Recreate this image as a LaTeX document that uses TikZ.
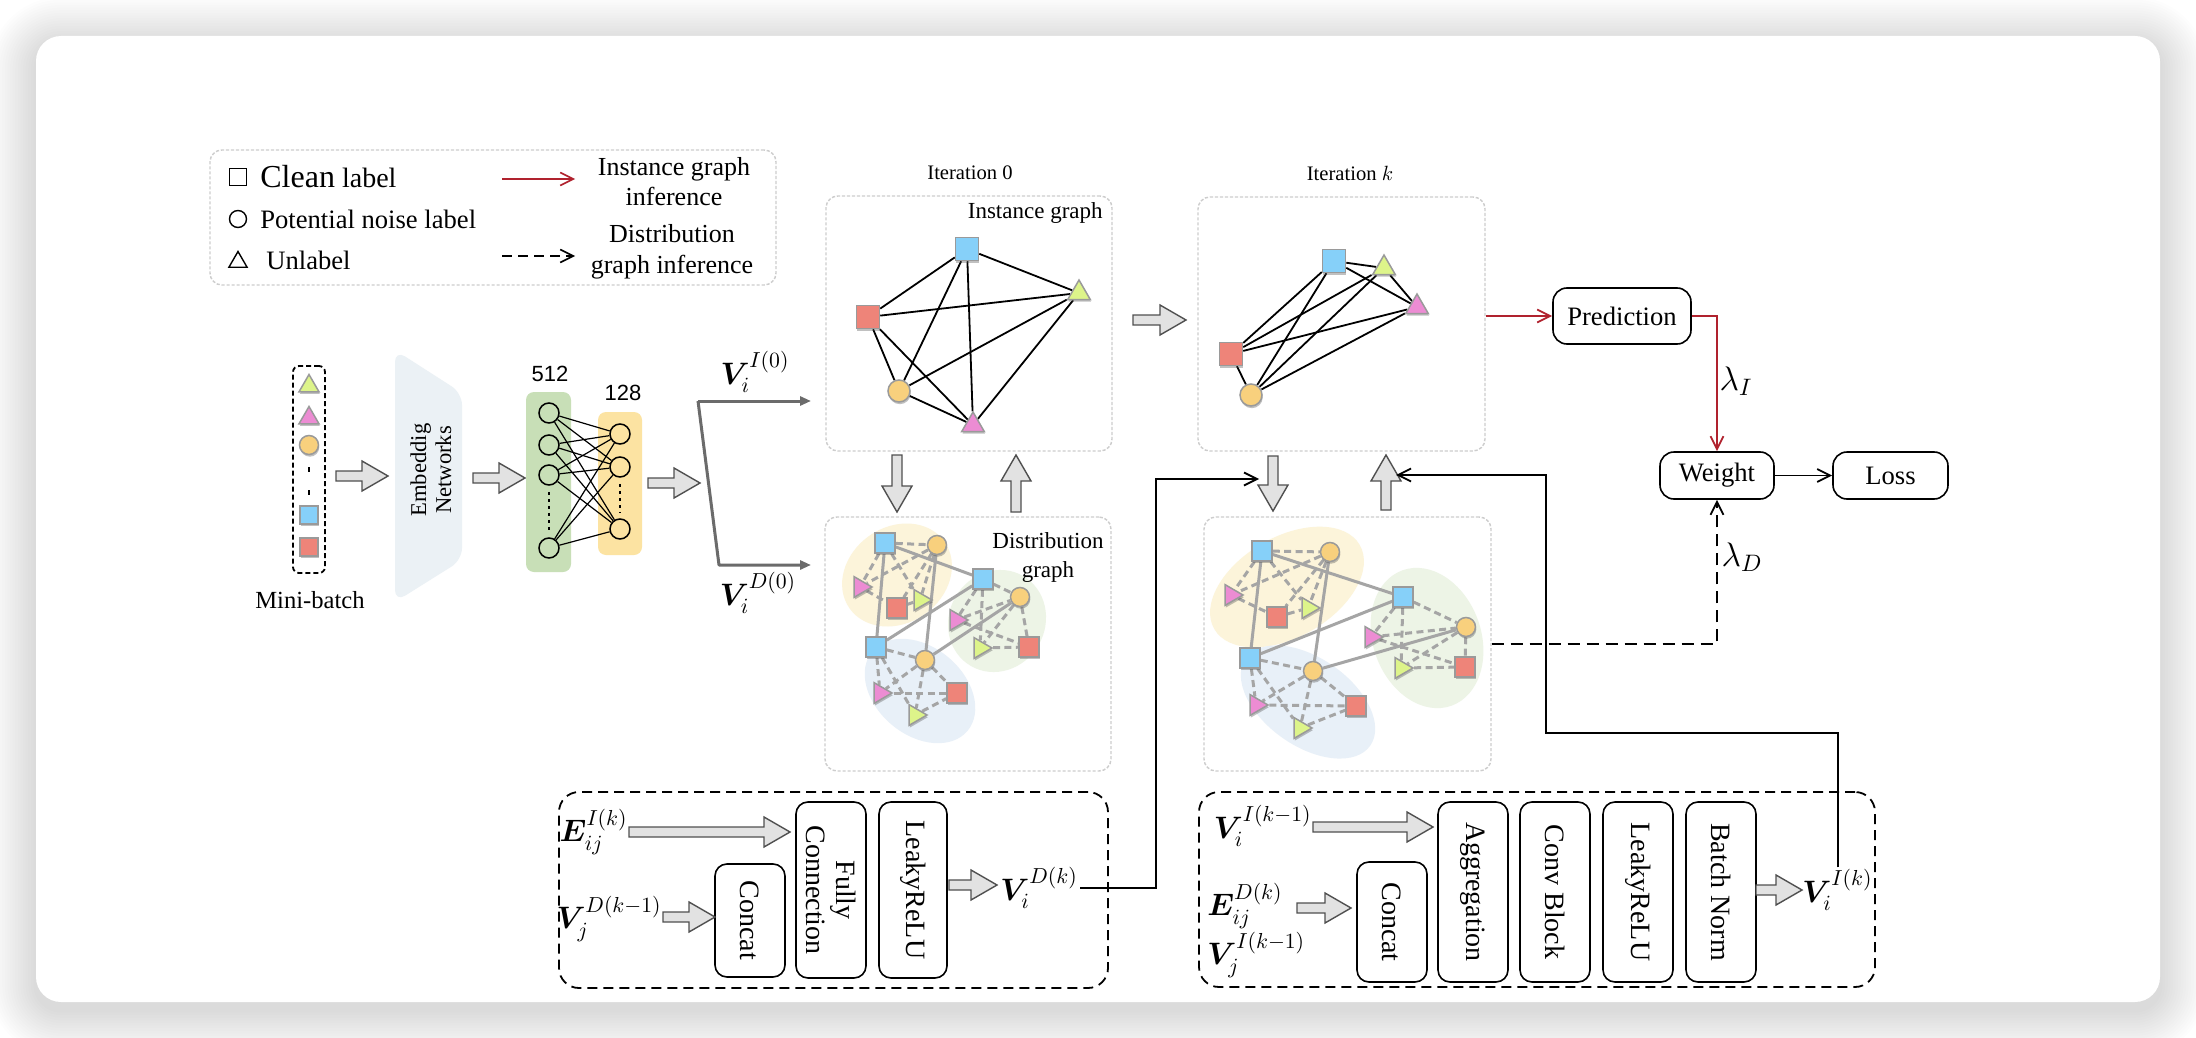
\RequirePackage{fix-cm}
\documentclass[tikz,border=0pt]{standalone}
\usepackage{amsmath}
\usepackage{bm}
\usepackage{fontspec}
\setmainfont{Liberation Serif}
\newfontfamily\numfont{Liberation Sans}
\usetikzlibrary{arrows.meta,shapes.geometric,shadows}

\definecolor{cblue}{HTML}{86D0F9}
\definecolor{cred}{HTML}{EE8479}
\definecolor{corange}{HTML}{F8D07D}
\definecolor{cgreen}{HTML}{DDF48A}
\definecolor{cpink}{HTML}{EC8CD3}
\definecolor{nodeedge}{HTML}{9A9A9A}
\definecolor{boxgray}{HTML}{CDCDCD}
\definecolor{arrowfill}{HTML}{E2E2E2}
\definecolor{arrowedge}{HTML}{505050}
\definecolor{darkred}{HTML}{B0222E}
\definecolor{blobyellow}{HTML}{FCF4DA}
\definecolor{blobgreen}{HTML}{EDF4E6}
\definecolor{blobblue}{HTML}{E8F0F8}
\definecolor{nngreen}{HTML}{C8DFB7}
\definecolor{nnyellow}{HTML}{FCE3A2}
\definecolor{embfill}{HTML}{EBF1F5}
\definecolor{distedge}{HTML}{A5A5A5}
\definecolor{splitgray}{HTML}{6B6B6B}

\newcommand{\BV}{\bm{V}}
\newcommand{\BE}{\bm{E}}

% hollow block arrow: tail x, tail y, length, direction angle
\newcommand{\blockarrow}[4]{%
  \begin{scope}[shift={(#1,#2)},rotate=#4]
    \draw[fill=arrowfill,draw=arrowedge,line width=0.7pt,line join=miter]
      (0,-5) -- ({#3-26},-5) -- ({#3-26},-15) -- (#3,0) -- ({#3-26},15)
      -- ({#3-26},5) -- (0,5) -- cycle;
  \end{scope}}

\pgfdeclarelayer{canvas}
\pgfdeclarelayer{under}
\pgfsetlayers{canvas,under,main}

\tikzset{
  gbox/.style={draw=boxgray,line width=0.7pt,dash pattern=on 1.6pt off 0.9pt,
    rounded corners=6pt,inner sep=0pt},
  bbox/.style={draw=black,line width=0.9pt,dash pattern=on 5pt off 3pt,
    rounded corners=10pt,inner sep=0pt},
  nshadow/.style={drop shadow={shadow xshift=0.4pt,shadow yshift=-1.1pt,
    opacity=0.35,fill=black!70}},
  shp/.style={draw=nodeedge,line width=0.75pt,inner sep=0pt,nshadow},
  sqr/.style={shp,rectangle,minimum size=#1},
  cirn/.style={shp,circle,fill=corange,minimum size=#1},
  trin/.style={shp,regular polygon,regular polygon sides=3,minimum size=#1},
  rtri/.style={trin=#1,shape border rotate=-90},
  neuron/.style={circle,draw=black,line width=0.75pt,minimum size=10pt,inner sep=0pt},
  ndots/.style={line width=0.8pt,dash pattern=on 1.5pt off 2pt,shorten <=3pt,shorten >=3pt},
  iedge/.style={line width=0.9pt,black},
  dsolid/.style={line width=1.5pt,distedge},
  ddash/.style={line width=1.5pt,distedge,dash pattern=on 3.5pt off 2.2pt},
  arr/.style={-{Straight Barb[length=6.5pt,width=6.5pt]}},
  conn/.style={line width=0.9pt,black,arr},
  vbox/.style={draw,line width=0.8pt,rounded corners=6pt,rotate=-90,
    font=\fontsize{14}{15}\selectfont,inner sep=0pt,align=center},
  rbox/.style={draw,line width=0.8pt,rounded corners=7pt,inner sep=0pt,
    font=\fontsize{13.3}{15}\selectfont},
  mlab/.style={inner sep=1pt,font=\fontsize{15.5}{18}\selectfont},
}

\begin{document}
\begin{tikzpicture}[x=0.5pt,y=-0.5pt]
\useasboundingbox (0,0) rectangle (2196,1038);

% ---------- card with soft shadow ----------
\begin{pgfonlayer}{canvas}
  \fill[white] (0,0) rectangle (2196,1038);
  \foreach \i in {1,...,18}{
    \pgfmathsetmacro{\rr}{12.5+1.3*\i}
    \fill[black,opacity=0.009,rounded corners=\rr pt]
      ({36-2.6*\i},{44-2.6*\i}) rectangle ({2160+2.6*\i},{1010+2.6*\i});
  }
  \fill[white,rounded corners=12.5pt] (36,36) rectangle (2160,1002);
\end{pgfonlayer}

% ---------- legend ----------
\node[gbox,minimum width=283pt,minimum height=67.5pt] (legend) at (493,217.5) {};
\node[draw,line width=0.7pt,minimum size=8.5pt,inner sep=0pt] (lsq) at (238,177) {};
\node[draw,circle,line width=0.7pt,minimum size=8.5pt,inner sep=0pt] (lcir) at (238,219) {};
\node[draw,regular polygon,regular polygon sides=3,line width=0.7pt,minimum size=10.5pt,inner sep=0pt] (ltri) at (238,262) {};
\node[anchor=west,inner sep=0pt,font=\fontsize{14}{16}\selectfont] (lclean) at (260,177)
  {{\fontsize{16}{18}\selectfont Clean} label};
\node[anchor=west,inner sep=0pt,font=\fontsize{13.3}{15}\selectfont] (lnoise) at (260,219) {Potential noise label};
\node[anchor=west,inner sep=0pt,font=\fontsize{13.3}{15}\selectfont] (lunl) at (266,260) {Unlabel};
\coordinate (lia) at (502,179);
\coordinate (lib) at (575,179);
\draw[darkred,line width=0.8pt,arr] (lia) -- (lib);
\coordinate (lda) at (502,256);
\coordinate (ldb) at (575,256);
\draw[black,line width=0.8pt,dash pattern=on 5pt off 3pt,arr] (lda) -- (ldb);
\node[align=center,font=\fontsize{13}{15}\selectfont] (linst) at (674,182) {Instance graph\\inference};
\node[align=center,font=\fontsize{13}{15.5}\selectfont] (ldist) at (672,252) {Distribution\\graph inference};

% ---------- mini-batch ----------
\node[draw,line width=0.9pt,dash pattern=on 2.5pt off 1.5pt,rounded corners=3pt,
  minimum width=16pt,minimum height=103.5pt,inner sep=0pt] (mb) at (309,469.5) {};
\node[trin=11.5pt,fill=cgreen] (mbg) at (309,386) {};
\node[trin=11.5pt,fill=cpink] (mbp) at (309,418) {};
\node[cirn=9.5pt] (mbc) at (309,445) {};
\node[sqr=9pt,fill=cblue] (mbb) at (309,515) {};
\node[sqr=9pt,fill=cred] (mbr) at (309,547) {};
\draw[line width=0.8pt,dash pattern=on 2.5pt off 9pt,shorten <=6pt,shorten >=3pt] (mbc) -- (mbb);
\node[font=\fontsize{12.3}{14}\selectfont] (mbl) at (310,600) {Mini-batch};

\blockarrow{336}{476}{52}{0}

% ---------- embedding network ----------
\fill[embfill,rounded corners=6pt] (395,350) -- (462,393) -- (462,560) -- (395,602) -- cycle;
\node[rotate=90,align=center,font=\fontsize{11.3}{12.5}\selectfont] (emb) at (431,470) {Embeddig\\Networks};

\blockarrow{473}{478}{52}{0}

% ---------- fully connected layers ----------
\node[fill=nngreen,rounded corners=4pt,minimum width=22.5pt,minimum height=90pt,inner sep=0pt] (nn1) at (548.5,482) {};
\node[fill=nnyellow,rounded corners=4pt,minimum width=22pt,minimum height=71.5pt,inner sep=0pt] (nn2) at (620,483.5) {};
\foreach \n/\yy in {1/413,2/445,3/475,4/548} \node[neuron] (n\n) at (549,\yy) {};
\foreach \n/\yy in {1/434,2/467,3/529} \node[neuron] (m\n) at (620,\yy) {};
\foreach \a in {1,2,3,4} \foreach \b in {1,2,3} \draw[line width=0.6pt] (n\a) -- (m\b);
\draw[ndots] (n3) -- (n4);
\draw[ndots] (m2) -- (m3);
\node[font=\fontsize{11}{13}\numfont] (t512) at (550,374) {512};
\node[font=\fontsize{11}{13}\numfont] (t128) at (623,393) {128};

\blockarrow{648}{483}{52}{0}

% ---------- split into the two initial features ----------
\coordinate (sp) at (698,401);
\coordinate (spb) at (719,565);
\coordinate (vI0) at (811,401);
\coordinate (vD0) at (811,565);
\draw[splitgray,line width=1.5pt,-{Triangle[length=5.5pt,width=4.5pt]}] (sp) -- (vI0);
\draw[splitgray,line width=1.5pt,line join=round,-{Triangle[length=5.5pt,width=4.5pt]}] (sp) -- (spb) -- (vD0);
\node[font=\fontsize{15.5}{18}\selectfont] (lvi0) at (755,372) {$\BV_i^{I(0)}$};
\node[font=\fontsize{15.5}{18}\selectfont] (lvd0) at (758,593) {$\BV_i^{D(0)}$};

% ---------- iteration 0: instance graph ----------
\node[gbox,minimum width=143pt,minimum height=127.5pt] (ib0) at (969,323.5) {};
\node[font=\fontsize{10.3}{12}\selectfont] (it0) at (970,173) {Iteration 0};
\node[anchor=east,inner sep=0pt,font=\fontsize{11.5}{13}\selectfont] (ib0t) at (1103,213) {Instance graph};
\node[sqr=11.5pt,fill=cblue] (i0a) at (967,249) {};
\node[trin=13pt,fill=cgreen] (i0g) at (1079,293) {};
\node[sqr=11.5pt,fill=cred] (i0r) at (868,317) {};
\node[cirn=11pt] (i0c) at (899,391) {};
\node[trin=13pt,fill=cpink] (i0p) at (973,425) {};

% ---------- iteration k: instance graph ----------
\node[gbox,minimum width=143.5pt,minimum height=127pt] (ikb) at (1341.5,324) {};
\node[font=\fontsize{10.3}{12}\selectfont] (itk) at (1350,173) {Iteration $k$};
\node[sqr=11.5pt,fill=cblue] (ika) at (1334,261) {};
\node[trin=13pt,fill=cgreen] (ikg) at (1384,268) {};
\node[trin=13pt,fill=cpink] (ikp) at (1417,307) {};
\node[sqr=11.5pt,fill=cred] (ikr) at (1231,354) {};
\node[cirn=11pt] (ikc) at (1251,395) {};

\blockarrow{1133}{320}{53}{0}

% ---------- distribution graphs ----------
\node[gbox,minimum width=143pt,minimum height=127pt] (db0) at (968,644) {};
\node[align=center,font=\fontsize{11.5}{14.5}\selectfont] (db0t) at (1048,557) {Distribution\\graph};
\node[gbox,minimum width=143.5pt,minimum height=127pt] (dbk) at (1347.5,644) {};

% iteration 0
\foreach \nm/\xx/\yy in {A1/885/543,A2/983/579,A3/876/647}
  \node[sqr=10pt,fill=cblue] (d0\nm) at (\xx,\yy) {};
\foreach \nm/\xx/\yy in {R1/897/608,R2/1029/647,R3/957/693}
  \node[sqr=10pt,fill=cred] (d0\nm) at (\xx,\yy) {};
\foreach \nm/\xx/\yy in {C1/937/545,C2/1020/597,C3/925/660}
  \node[cirn=9.5pt] (d0\nm) at (\xx,\yy) {};
\foreach \nm/\xx/\yy in {P1/860/587,P2/956/620,P3/880/693}
  \node[rtri=12pt,fill=cpink] (d0\nm) at (\xx,\yy) {};
\foreach \nm/\xx/\yy in {G1/920/600,G2/980/648,G3/915/715}
  \node[rtri=12pt,fill=cgreen] (d0\nm) at (\xx,\yy) {};

% iteration k
\foreach \nm/\xx/\yy in {A1/1262/551,A2/1403/597,A3/1250/658}
  \node[sqr=10pt,fill=cblue] (dk\nm) at (\xx,\yy) {};
\foreach \nm/\xx/\yy in {R1/1277/617,R2/1465/667,R3/1356/706}
  \node[sqr=10pt,fill=cred] (dk\nm) at (\xx,\yy) {};
\foreach \nm/\xx/\yy in {C1/1330/552,C2/1466/627,C3/1313/671}
  \node[cirn=9.5pt] (dk\nm) at (\xx,\yy) {};
\foreach \nm/\xx/\yy in {P1/1231/595,P2/1371/637,P3/1256/705}
  \node[rtri=12pt,fill=cpink] (dk\nm) at (\xx,\yy) {};
\foreach \nm/\xx/\yy in {G1/1308/608,G2/1401/668,G3/1300/728}
  \node[rtri=12pt,fill=cgreen] (dk\nm) at (\xx,\yy) {};

\begin{pgfonlayer}{under}
  % cluster regions
  \fill[blobyellow] (897,575) ellipse [x radius=29pt,y radius=24pt,rotate=35];
  \fill[blobgreen] (997,621) ellipse [x radius=26pt,y radius=24pt,rotate=60];
  \fill[blobblue] (920,691) ellipse [x radius=31pt,y radius=22pt,rotate=-40];
  \fill[blobyellow] (1287,587) ellipse [x radius=42pt,y radius=25pt,rotate=30];
  \fill[blobgreen] (1427,638) ellipse [x radius=36pt,y radius=27pt,rotate=-70];
  \fill[blobblue] (1308,702) ellipse [x radius=38pt,y radius=22pt,rotate=-35];
  % instance graph edges
  \foreach \u/\v in {a/r,a/c,a/p,a/g,r/g,r/c,r/p,c/g,c/p,p/g}{
    \draw[iedge] (i0\u) -- (i0\v);
    \draw[iedge] (ik\u) -- (ik\v);
  }
  % distribution graph edges
  \foreach \g in {d0,dk}{
    \foreach \u/\v in {A1/C1,A1/P1,A1/G1,C1/P1,C1/R1,C1/G1,P1/R1,R1/G1,
                       A2/C2,A2/P2,A2/G2,P2/C2,P2/R2,C2/G2,C2/R2,G2/R2,
                       A3/C3,A3/P3,A3/G3,C3/P3,C3/G3,C3/R3,P3/R3,G3/R3}
      \draw[ddash] (\g\u) -- (\g\v);
    \foreach \u/\v in {A1/A2,A1/A3,C1/C3,A3/A2,C3/C2}
      \draw[dsolid] (\g\u) -- (\g\v);
  }
\end{pgfonlayer}

\blockarrow{897}{455}{57}{-90}
\blockarrow{1016}{512}{57}{90}
\blockarrow{1273}{456}{55}{-90}
\blockarrow{1386}{510}{55}{90}

% ---------- distribution node update block ----------
\node[bbox,minimum width=274.5pt,minimum height=98pt] (blk1) at (833.5,890) {};
\node[mlab,anchor=east] (eik) at (630,832) {$\BE_{ij}^{I(k)}$};
\node[mlab,anchor=east] (vjd) at (664,919) {$\BV_j^{D(k-1)}$};
\node[vbox,minimum width=56.5pt,minimum height=35pt] (bconcat) at (750,920.5) {Concat};
\node[vbox,minimum width=88pt,minimum height=35pt] (bfc) at (831,890) {Fully\\Connection};
\node[vbox,minimum width=88pt,minimum height=34pt] (blrelu) at (913,890) {LeakyReLU};
\node[mlab,anchor=west] (vdk) at (998,888) {$\BV_i^{D(k)}$};
\blockarrow{629}{832}{161}{0}
\blockarrow{663}{917}{52}{0}
\blockarrow{949}{885}{48}{0}

% ---------- instance node update block ----------
\node[bbox,minimum width=338pt,minimum height=97.5pt] (blk2) at (1537,889.5) {};
\node[mlab,anchor=east] (vik1) at (1314,826) {$\BV_i^{I(k-1)}$};
\node[mlab,anchor=west] (ejd) at (1205,906) {$\BE_{ij}^{D(k)}$};
\node[mlab,anchor=west] (vji) at (1205,955) {$\BV_j^{I(k-1)}$};
\node[vbox,minimum width=60pt,minimum height=35pt] (cconcat) at (1392,922) {Concat};
\node[vbox,minimum width=90pt,minimum height=35pt] (cagg) at (1473,892) {Aggregation};
\node[vbox,minimum width=90pt,minimum height=35pt] (cconv) at (1555,892) {Conv Block};
\node[vbox,minimum width=90pt,minimum height=35pt] (clrelu) at (1638,892) {LeakyReLU};
\node[vbox,minimum width=90pt,minimum height=35pt] (cbn) at (1721,892) {Batch Norm};
\node[mlab,anchor=west] (vik) at (1800,890) {$\BV_i^{I(k)}$};
\blockarrow{1313}{827}{120}{0}
\blockarrow{1297}{908}{54}{0}
\blockarrow{1756}{890}{46}{0}

% ---------- feedback connectors ----------
\coordinate (t1) at (1156,479);
\coordinate (inK) at (1259,479);
\draw[conn] (vdk.east) -| (t1) -- (inK);
\coordinate (t3) at (1838,733);
\coordinate (t2) at (1546,733);
\coordinate (outK) at (1396,475);
\draw[conn] (vik.north -| t3) -- (t3) -- (t2) |- (outK);

% ---------- prediction and loss ----------
\node[rbox,minimum width=69pt,minimum height=28pt] (pred) at (1622,316) {Prediction};
\node[rbox,minimum width=57pt,minimum height=23.5pt] (weight) at (1717,475.5) {Weight};
\node[rbox,minimum width=57.5pt,minimum height=23.5pt] (loss) at (1890.5,475.5) {Loss};
\draw[darkred,line width=0.9pt,arr] (ikb.east |- pred.west) -- (pred.west);
\draw[darkred,line width=0.9pt,arr] (pred.east) -| (weight.north);
\draw[black,line width=0.9pt,dash pattern=on 6pt off 3.5pt,arr] (dbk.east) -| (weight.south);
\draw[conn] (weight) -- (loss);
\node[font=\fontsize{17}{20}\selectfont] (lamI) at (1736,381) {$\lambda_I$};
\node[font=\fontsize{17}{20}\selectfont] (lamD) at (1742,557) {$\lambda_D$};

\end{tikzpicture}
\end{document}
